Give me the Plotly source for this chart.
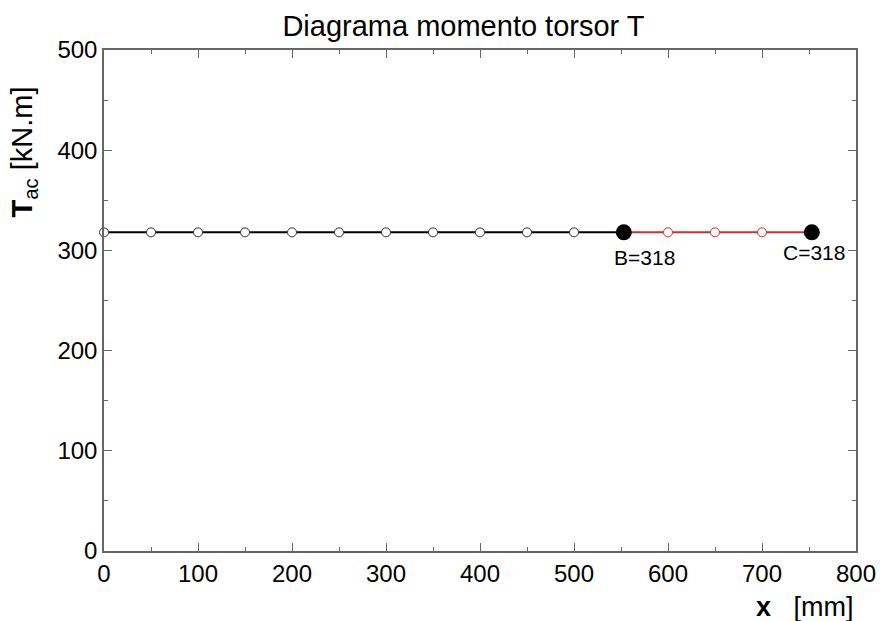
import plotly.graph_objects as go

# Data
x_black = [0, 50, 100, 150, 200, 250, 300, 350, 400, 450, 500, 553]
t_black = [318] * len(x_black)
x_red = [553, 600, 650, 700, 753]
t_red = [318] * len(x_red)
x_open_black = [0, 50, 100, 150, 200, 250, 300, 350, 400, 450, 500]
t_open_black = [318] * len(x_open_black)
x_open_red = [600, 650, 700]
t_open_red = [318] * len(x_open_red)
x_points = [553, 753]
t_points = [318, 318]
point_labels = ["B=318", "C=318"]
x_ticks = [0, 100, 200, 300, 400, 500, 600, 700, 800]
y_ticks = [0, 100, 200, 300, 400, 500]

FONT = "Liberation Sans, Arial, sans-serif"
RED = "#d0302c"

fig = go.Figure()
fig.add_trace(go.Scatter(x=x_black, y=t_black, mode="lines",
                         line=dict(color="black", width=2), showlegend=False))
fig.add_trace(go.Scatter(x=x_red, y=t_red, mode="lines",
                         line=dict(color=RED, width=2), showlegend=False))
fig.add_trace(go.Scatter(x=x_open_black, y=t_open_black, mode="markers",
                         marker=dict(symbol="circle", size=9, color="white",
                                     line=dict(color="#333", width=1)),
                         showlegend=False, cliponaxis=False))
fig.add_trace(go.Scatter(x=x_open_red, y=t_open_red, mode="markers",
                         marker=dict(symbol="circle", size=9, color="white",
                                     line=dict(color=RED, width=1)),
                         showlegend=False))
fig.add_trace(go.Scatter(x=x_points, y=t_points, mode="markers",
                         marker=dict(symbol="circle", size=16, color="black"),
                         showlegend=False, cliponaxis=False))

label_shift = [(21, -25), (2, -20)]
for xv, yv, lab, (dx, dy) in zip(x_points, t_points, point_labels, label_shift):
    fig.add_annotation(x=xv, y=yv, text=lab, showarrow=False, xanchor="center",
                       yanchor="middle", xshift=dx, yshift=dy,
                       font=dict(family=FONT, size=21, color="black"))

# x-axis title (bottom right)
fig.add_annotation(xref="paper", yref="paper", x=1.0, y=-0.112, xanchor="right", yanchor="middle",
                   text="<b>x</b>&nbsp;&nbsp;&nbsp;[mm]", showarrow=False,
                   font=dict(family=FONT, size=27, color="black"))
# y-axis title (rotated, upper left)
fig.add_annotation(xref="paper", yref="paper", x=-0.106, y=0.796, xanchor="center", yanchor="middle",
                   text="<b>T</b><sub>ac</sub> [kN.m]", showarrow=False, textangle=-90,
                   font=dict(family=FONT, size=29, color="black"))

axis_common = dict(
    showgrid=False, zeroline=False, showline=True, linecolor="#666", linewidth=1.5,
    mirror="ticks", ticks="inside", ticklen=8, tickcolor="#666", tickwidth=1,
    tickfont=dict(family=FONT, size=24, color="black"), automargin=False,
)

fig.update_layout(
    width=881, height=621, autosize=False,
    paper_bgcolor="white", plot_bgcolor="white",
    margin=dict(l=104, r=25, t=50, b=70, autoexpand=False),
    title=dict(text="Diagrama momento torsor T", x=0.478, xanchor="center", xref="paper",
               y=1 - 26 / 621, yanchor="middle",
               font=dict(family=FONT, size=29, color="black")),
    xaxis=dict(range=[0, 800], tickvals=x_ticks,
               minor=dict(ticks="inside", ticklen=4, tickcolor="#666", dtick=50),
               **axis_common),
    yaxis=dict(range=[0, 500], tickvals=y_ticks,
               minor=dict(ticks="inside", ticklen=4, tickcolor="#666", dtick=50),
               **axis_common),
)

# remove the default 8px body margin so the figure fills the window exactly
fig.write_html("out.html",
               config={"displayModeBar": False, "responsive": False},
               post_script="document.body.style.margin='0';document.body.style.overflow='hidden';")
